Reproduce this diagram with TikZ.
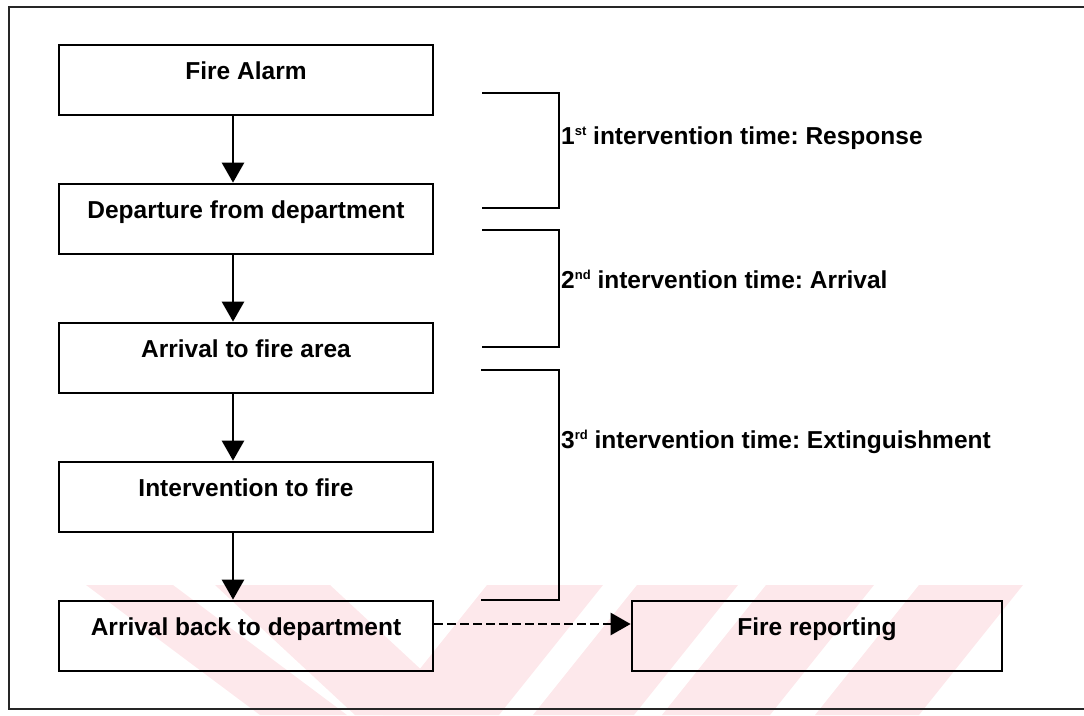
\documentclass[tikz,border=0pt]{standalone}
\usepackage{fontspec}
\setmainfont{Liberation Sans}
\usetikzlibrary{arrows.meta}
% small raised ordinal suffix (1st, 2nd, 3rd)
\newcommand\ordsup[1]{\raisebox{9pt}{\fontsize{13}{13}\selectfont #1}}
\definecolor{wmpink}{RGB}{253,232,235}
\frenchspacing
\begin{document}
\begin{tikzpicture}[x=1pt,y=-1pt,
  every node/.style={font=\fontsize{24.5}{29}\selectfont\bfseries},
  stepbox/.style={draw, line width=2.7pt, rectangle, minimum width=374pt,
    inner xsep=0pt, inner ysep=0pt, text height=34pt, text depth=36pt},
  flow/.style={line width=2.6pt, -{Triangle[width=22pt,length=20pt]}},
  dashflow/.style={line width=2.6pt, dash pattern=on 9pt off 4pt,
    -{Triangle[width=22pt,length=20pt]}},
  span/.style={line width=2.6pt},
  note/.style={anchor=base west, inner sep=0pt},
  frame/.style={line width=2.8pt, black!85}]
\useasboundingbox (0,0) rectangle (1084,715);

% faint background stripes
\fill[wmpink] (86,585) -- (173,585) -- (347,715) -- (260,715) -- cycle;
\fill[wmpink] (215,585) -- (330,585) -- (470,715) -- (355,715) -- cycle;
\fill[wmpink] (487,585) -- (603,585) -- (499,715) -- (383,715) -- cycle;
\fill[wmpink] (637,585) -- (738,585) -- (634,715) -- (533,715) -- cycle;
\fill[wmpink] (766,585) -- (874,585) -- (770,715) -- (662,715) -- cycle;
\fill[wmpink] (919,585) -- (1023,585) -- (919,715) -- (815,715) -- cycle;

% outer frame (open on the right)
\draw[frame] (1084,7) -- (9,7) -- (9,709) -- (1084,709);

% process steps
\node[stepbox] (alarm)  at (246,80)  {Fire Alarm};
\node[stepbox] (depart) at (246,219) {Departure from department};
\node[stepbox] (arrive) at (246,358) {Arrival to fire area};
\node[stepbox] (interv) at (246,497) {Intervention to fire};
\node[stepbox] (back)   at (246,636) {Arrival back to department};
\node[stepbox, minimum width=370pt] (report) at (817,636) {Fire reporting};

% flow arrows
\coordinate (col) at (233,0);
\draw[flow] (alarm.south -| col)  -- (depart.north -| col);
\draw[flow] (depart.south -| col) -- (arrive.north -| col);
\draw[flow] (arrive.south -| col) -- (interv.north -| col);
\draw[flow] (interv.south -| col) -- (back.north -| col);
\draw[dashflow] ([yshift=12pt]back.east) -- ([yshift=12pt]report.west);

% interval brackets
\draw[span] (482,93)  -- (559,93)  -- (559,208) -- (482,208);
\draw[span] (482,230) -- (559,230) -- (559,347) -- (482,347);
\draw[span] (481,370) -- (559,370) -- (559,600) -- (481,600);

% interval labels
\node[note] (t1) at (561,144) {1\ordsup{st} intervention time: Response};
\node[note] (t2) at (561,288) {2\ordsup{nd} intervention time: Arrival};
\node[note] (t3) at (561,448) {3\ordsup{rd} intervention time: Extinguishment};
\end{tikzpicture}
\end{document}
